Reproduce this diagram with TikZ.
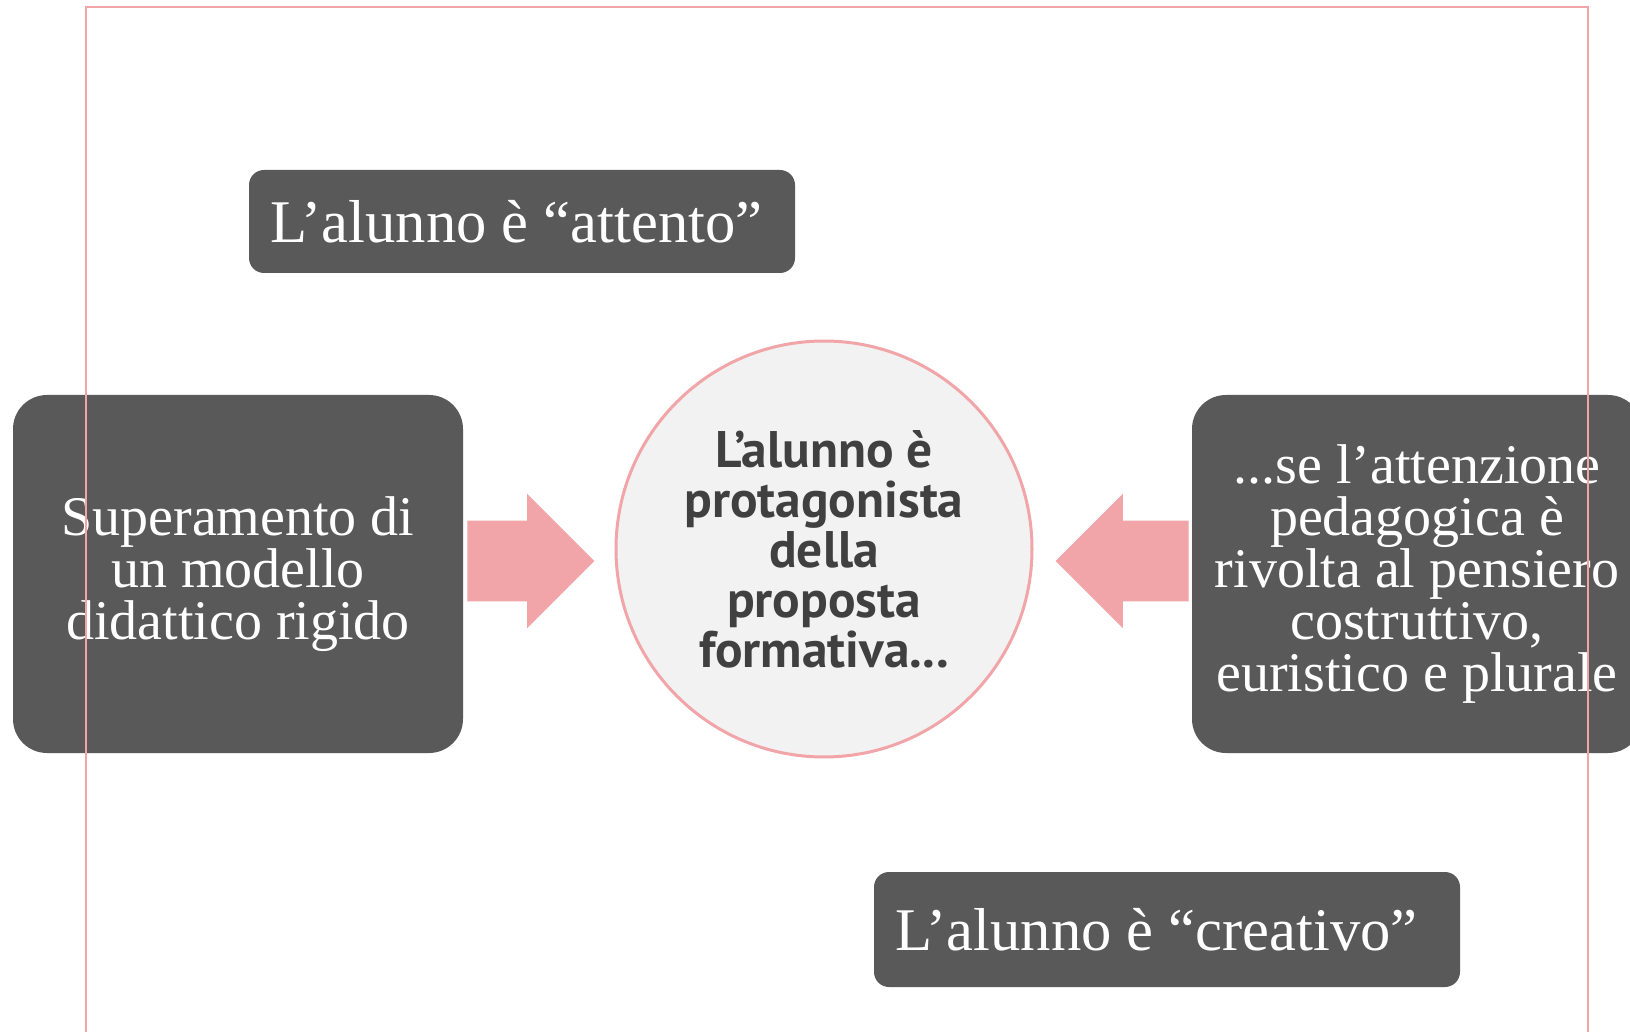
\documentclass[tikz,border=0pt]{standalone}
\usepackage{fontspec}
\setmainfont{Liberation Serif}
\newfontfamily\circfont{PT Sans}
\usepackage{tikz}
\usetikzlibrary{positioning,shapes.arrows}
\definecolor{boxgray}{HTML}{595959}
\definecolor{rosa}{HTML}{F2A5A8}
\definecolor{circfill}{HTML}{F2F2F2}
\definecolor{circtext}{HTML}{404040}

\begin{document}
\begin{tikzpicture}[x=0.5pt,y=-0.5pt,% coordinates in pixels of the slide, y going down
			every node/.style={
				align=center,	% so that "\\" breaks the line
				inner sep=0pt
			},
			bigbox/.style={rectangle,fill=boxgray,text=white,rounded corners=17pt,
				minimum width=225pt,minimum height=179pt,font=\fontsize{28}{26}\selectfont},
			tag/.style={rectangle,fill=boxgray,text=white,rounded corners=7.5pt,
				inner xsep=10.5pt,font=\fontsize{30.3}{34}\selectfont},
			bigarrow/.style={single arrow,fill=rosa,inner ysep=20pt,
				single arrow head extend=13.5pt,single arrow tip angle=90}
		]
		\useasboundingbox (0,0) rectangle (1630,1032);
		\node[tag,minimum height=51.5pt](R1) at (522,221.5){\makebox[252pt][l]{L’alunno è “attento”}};
		\node[bigbox](R2) at (238,574){Superamento di\\ un modello\\ didattico rigido};
		\node[circle,draw=rosa,line width=1.5pt,fill=circfill,minimum size=208pt,
			text=circtext,font=\circfont\bfseries\fontsize{25.7}{25}\selectfont](C) at (824,549)
			{L’alunno è\\ protagonista\\ della\\ proposta\\ formativa...};
		\node[bigbox](R3) at (1417,574){...se l’attenzione\\ pedagogica è\\ rivolta al pensiero\\ costruttivo,\\ euristico e plurale};
		\node[tag,minimum height=57.5pt](R4) at (1167,929.5){\makebox[272pt][l]{L’alunno è “creativo”}};
		\node[bigarrow,minimum height=63.5pt,anchor=tip](A1) at (595,561){};
		\node[bigarrow,minimum height=66.5pt,shape border rotate=180,anchor=tip](A2) at (1055,561){};
		% thin frame of the slide, over the boxes
		\draw[rosa,line width=0.75pt] (86,7) rectangle (1588,1045);
	\end{tikzpicture}
\end{document}
